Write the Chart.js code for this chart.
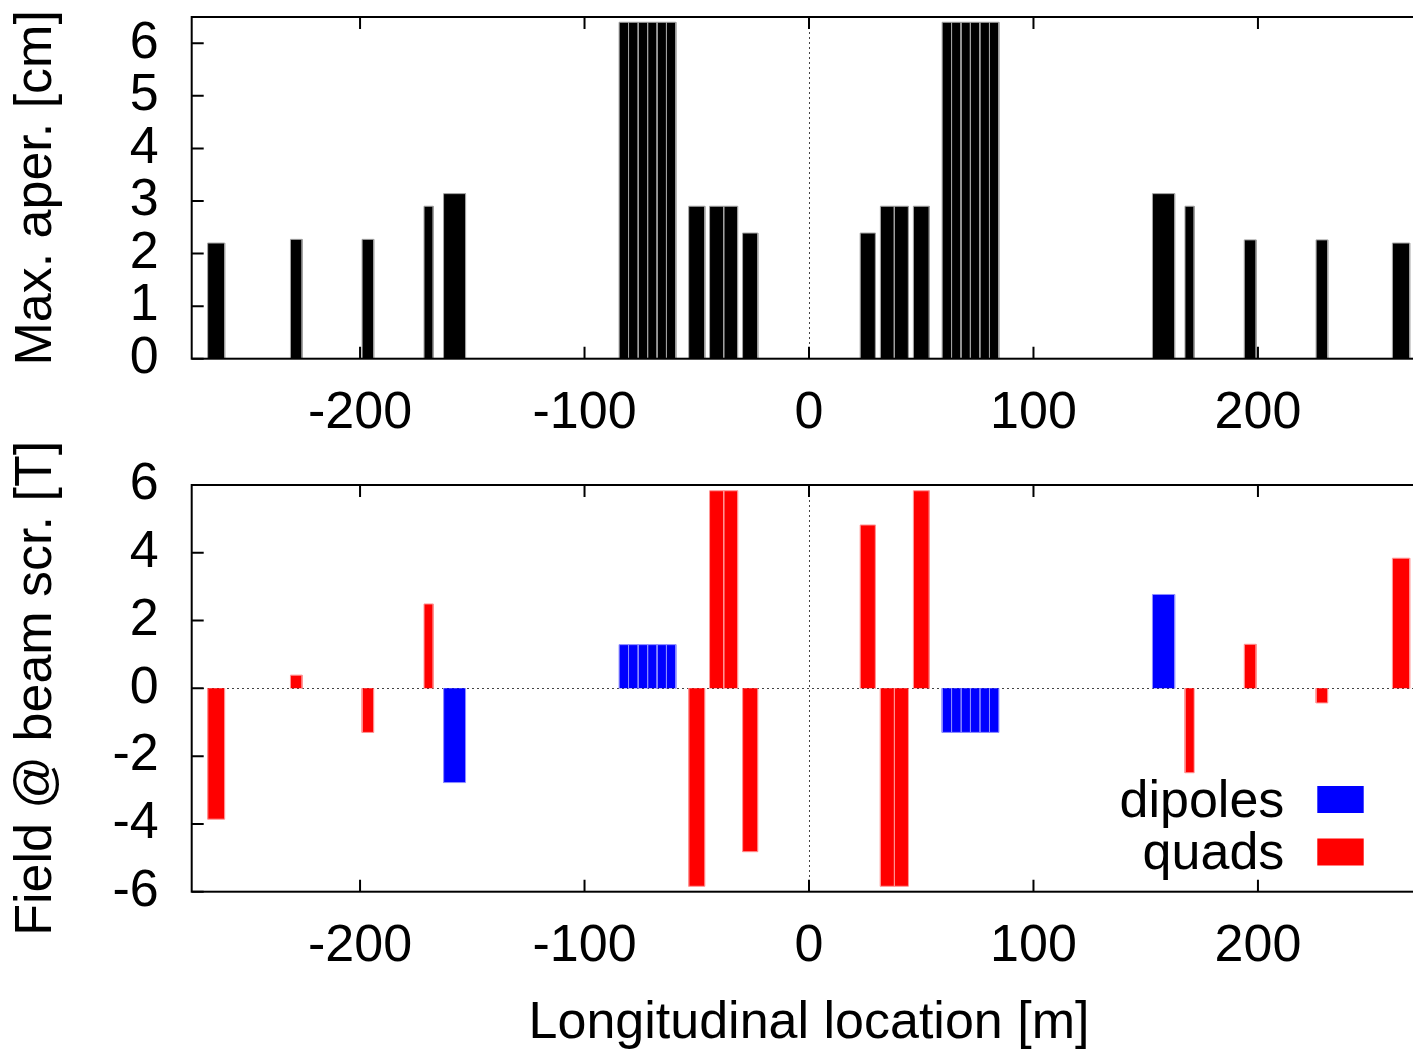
<!DOCTYPE html>
<html>
<head>
<meta charset="utf-8">
<title>Aperture and field along the line</title>
<script src="https://cdn.jsdelivr.net/npm/chart.js@4.4.1/dist/chart.umd.min.js"></script>
<style>
  html, body { margin: 0; padding: 0; background: #fff; overflow: hidden; width: 1413px; height: 1052px; }
  canvas { position: absolute; left: 0; }
  #aperChart { top: 0; }
  #fieldChart { top: 440px; }
</style>
</head>
<body>
<canvas id="aperChart" width="1430" height="440"></canvas>
<canvas id="fieldChart" width="1430" height="612"></canvas>
<script>
// magnet layout, left to right: start / end position [m], kind (D = dipole, Q = quad)
var elemStart = [-267.9, -231.0, -199.1, -171.5, -162.8,
                 -84.6, -80.4, -76.1, -71.9, -67.7, -63.5,
                 -53.6, -44.3, -38.0, -29.6,
                 22.8, 31.8, 38.0, 46.5,
                 59.3, 63.5, 67.7, 71.9, 76.1, 80.4,
                 153.0, 167.5, 193.9, 225.9, 259.9];
var elemEnd   = [-260.3, -225.8, -193.9, -167.4, -153.0,
                 -80.4, -76.1, -71.9, -67.7, -63.5, -59.3,
                 -46.4, -38.0, -31.8, -22.8,
                 29.6, 38.0, 44.3, 53.6,
                 63.5, 67.7, 71.9, 76.1, 80.4, 84.6,
                 162.9, 171.6, 199.2, 231.1, 267.6];
var elemKind  = ['Q', 'Q', 'Q', 'Q', 'D',
                 'D', 'D', 'D', 'D', 'D', 'D',
                 'Q', 'Q', 'Q', 'Q',
                 'Q', 'Q', 'Q', 'Q',
                 'D', 'D', 'D', 'D', 'D', 'D',
                 'D', 'Q', 'Q', 'Q', 'Q'];

// max. aperture [cm]
var maxAperture = [2.20, 2.27, 2.27, 2.90, 3.14,
                   6.40, 6.40, 6.40, 6.40, 6.40, 6.40,
                   2.90, 2.90, 2.90, 2.39,
                   2.39, 2.90, 2.90, 2.90,
                   6.40, 6.40, 6.40, 6.40, 6.40, 6.40,
                   3.14, 2.90, 2.26, 2.26, 2.20];

// field at the beam screen [T]
var screenField = [-3.86, 0.39, -1.30, 2.49, -2.78,
                   1.29, 1.29, 1.29, 1.29, 1.29, 1.29,
                   -5.84, 5.83, 5.83, -4.82,
                   4.82, -5.84, -5.84, 5.83,
                   -1.30, -1.30, -1.30, -1.30, -1.30, -1.30,
                   2.77, -2.49, 1.30, -0.43, 3.84];

var xTicks = [-200, -100, 0, 100, 200];
var legendNames = ['dipoles', 'quads'];

var FONT = "'Liberation Sans', Arial, Helvetica, sans-serif";
Chart.defaults.font.family = FONT;
Chart.defaults.font.size = 52;
Chart.defaults.color = '#000';

// one filled outline per magnet: up at start, across, down at end
function magnetSets(values, fillOf, edgeOf) {
    return elemStart.map(function (s, i) {
        return {
            label: elemKind[i],
            data: [{x: s, y: 0}, {x: s, y: values[i]}, {x: elemEnd[i], y: values[i]}, {x: elemEnd[i], y: 0}],
            fill: 'origin',
            backgroundColor: fillOf(i),
            borderColor: edgeOf(i),
            borderWidth: 1,
            pointRadius: 0,
            tension: 0
        };
    });
}

// gnuplot style border with inward ticks
var framePlugin = {
    id: 'frame',
    afterDatasetsDraw: function (chart) {
        var ctx = chart.ctx, a = chart.chartArea, sx = chart.scales.x, sy = chart.scales.y;
        ctx.save();
        ctx.strokeStyle = '#000';
        ctx.lineWidth = 2;
        ctx.strokeRect(a.left, a.top, a.right - a.left, a.bottom - a.top);
        ctx.beginPath();
        sx.ticks.forEach(function (t) {
            var px = sx.getPixelForValue(t.value);
            ctx.moveTo(px, a.bottom); ctx.lineTo(px, a.bottom - 12);
            ctx.moveTo(px, a.top); ctx.lineTo(px, a.top + 12);
        });
        sy.ticks.forEach(function (t) {
            var py = sy.getPixelForValue(t.value);
            ctx.moveTo(a.left, py); ctx.lineTo(a.left + 12, py);
            ctx.moveTo(a.right, py); ctx.lineTo(a.right - 12, py);
        });
        ctx.stroke();
        ctx.restore();
    }
};

// key in the lower right corner: text right aligned, swatch after it
var keyPlugin = {
    id: 'key',
    afterDraw: function (chart, args, opts) {
        var ctx = chart.ctx, a = chart.chartArea;
        ctx.save();
        ctx.font = '52px ' + FONT;
        ctx.textAlign = 'right';
        ctx.textBaseline = 'middle';
        opts.items.forEach(function (it, i) {
            var cy = a.bottom - 92.2 + i * 52.5;
            var boxRight = a.right - 62.6;
            ctx.fillStyle = it.color;
            ctx.fillRect(boxRight - 46.4, cy - 13.5, 46.4, 27);
            ctx.fillStyle = '#000';
            ctx.fillText(it.text, boxRight - 46.4 - 33, cy + 3);
        });
        ctx.restore();
    }
};

function zeroOnly(ctx) {
    return ctx.tick.value === 0 ? '#444' : 'rgba(0,0,0,0)';
}

// fixed axis sizes so both plot frames sit where they should
function fixWidth(w) {
    return function (s) { s.width = w; s.paddingTop = 0; s.paddingBottom = 0; };
}
function fixHeight(h) {
    return function (s) { s.height = h; s.paddingLeft = 0; s.paddingRight = 0; };
}

function xScale(height, titleText) {
    return {
        type: 'linear',
        min: -275, max: 275,
        afterBuildTicks: function (s) { s.ticks = xTicks.map(function (v) { return {value: v}; }); },
        ticks: { padding: 23.5, maxRotation: 0, autoSkip: false },
        grid: { color: zeroOnly, lineWidth: 1, drawTicks: false },
        border: { display: false, dash: [2, 3] },
        title: titleText ? { display: true, text: titleText, padding: {top: 0, bottom: -3} } : { display: false },
        afterFit: fixHeight(height)
    };
}

var aperChart = new Chart(document.getElementById('aperChart'), {
    type: 'line',
    data: { datasets: magnetSets(maxAperture,
        function () { return '#000'; },
        function () { return '#a0a0a0'; }) },
    options: {
        responsive: false,
        animation: false,
        layout: { padding: { left: 0, top: 17, right: 3.7, bottom: 0 } },
        plugins: { legend: { display: false }, tooltip: { enabled: false } },
        scales: {
            x: xScale(81.3),
            y: {
                min: 0, max: 6.5,
                ticks: { stepSize: 1, includeBounds: false, padding: 33, autoSkip: false },
                grid: { display: false, drawTicks: false },
                border: { display: false },
                title: { display: true, text: 'Max. aper. [cm]', padding: {top: 5, bottom: 0} },
                afterFit: fixWidth(191.7)
            }
        }
    },
    plugins: [framePlugin]
});

var fieldChart = new Chart(document.getElementById('fieldChart'), {
    type: 'line',
    data: { datasets: magnetSets(screenField,
        function (i) { return elemKind[i] === 'D' ? '#0000ff' : '#ff0000'; },
        function (i) { return elemKind[i] === 'D' ? '#8c8cff' : '#ff9494'; }) },
    options: {
        responsive: false,
        animation: false,
        layout: { padding: { left: 0, top: 45, right: 3.7, bottom: 0 } },
        plugins: {
            legend: { display: false },
            tooltip: { enabled: false },
            key: { items: [{text: legendNames[0], color: '#0000ff'}, {text: legendNames[1], color: '#ff0000'}] }
        },
        scales: {
            x: xScale(160.3, 'Longitudinal location [m]'),
            y: {
                min: -6, max: 6,
                ticks: { stepSize: 2, includeBounds: false, padding: 33, autoSkip: false },
                grid: { color: zeroOnly, lineWidth: 1, drawTicks: false },
                border: { display: false, dash: [2, 3] },
                title: { display: true, text: 'Field @ beam scr. [T]', padding: {top: 5, bottom: 0} },
                afterFit: fixWidth(191.7)
            }
        }
    },
    plugins: [framePlugin, keyPlugin]
});
</script>
</body>
</html>
